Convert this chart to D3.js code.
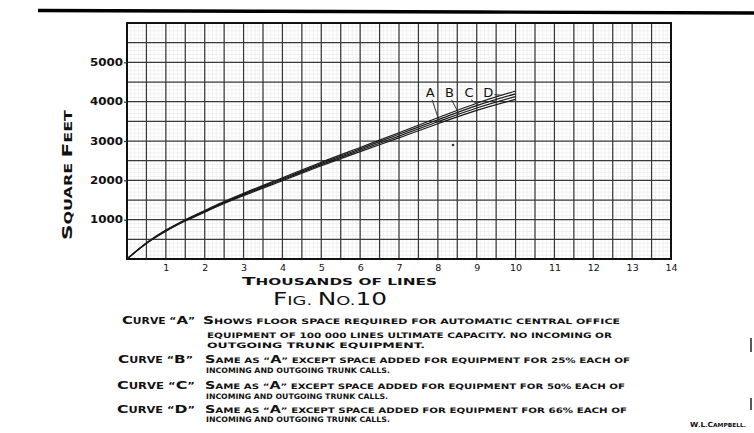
<!DOCTYPE html>
<html>
<head>
<meta charset="utf-8">
<script src="https://cdn.jsdelivr.net/npm/d3@7"></script>
<style>
  html, body { margin: 0; padding: 0; background: #fff; }
  svg { display: block; }
  text { font-family: "DejaVu Sans", sans-serif; fill: #111; }
  .lettering { font-weight: bold; }
</style>
</head>
<body>
<svg id="chart" width="754" height="433"></svg>
<script>
// Floor space (square feet) against thousands of lines, four curves A–D
const lines = [0, 0.5, 1, 1.5, 2, 2.5, 3, 4, 5, 6, 7, 8, 9, 10];
const curveA = [0, 395, 705, 965, 1190, 1410, 1610, 1990, 2370, 2730, 3080, 3440, 3780, 4060];
const curveB = [0, 400, 715, 980, 1205, 1425, 1630, 2015, 2400, 2765, 3125, 3490, 3840, 4130];
const curveC = [0, 405, 725, 990, 1220, 1445, 1650, 2040, 2430, 2800, 3170, 3540, 3900, 4200];
const curveD = [0, 410, 735, 1000, 1235, 1460, 1670, 2065, 2460, 2835, 3210, 3590, 3960, 4270];
const curveNames = ["A", "B", "C", "D"];
const xTicks = [1, 2, 3, 4, 5, 6, 7, 8, 9, 10, 11, 12, 13, 14];
const yTicks = [1000, 2000, 3000, 4000, 5000];

const captions = [
  { head: "Curve \u201CA\u201D", body: ["Shows floor space required for automatic central office",
                                        "equipment of 100 000 lines ultimate capacity. no incoming or",
                                        "outgoing trunk equipment."] },
  { head: "Curve \u201CB\u201D", body: ["Same as \u201CA\u201D except space added for equipment for 25% each of",
                                        "incoming and outgoing trunk calls."] },
  { head: "Curve \u201CC\u201D", body: ["Same as \u201CA\u201D except space added for equipment for 50% each of",
                                        "incoming and outgoing trunk calls."] },
  { head: "Curve \u201CD\u201D", body: ["Same as \u201CA\u201D except space added for equipment for 66% each of",
                                        "incoming and outgoing trunk calls."] }
];

const svg = d3.select("#chart");
const m = { left: 127, top: 23, right: 671, bottom: 259 };

const x = d3.scaleLinear().domain([0, 14]).range([m.left, m.right]);
const y = d3.scaleLinear().domain([0, 6000]).range([m.bottom, m.top]);

// hand lettering: capitals tall, the rest as short capitals
function letter(textSel, str, big, small, bigDigits) {
  const tall = bigDigits ? /[A-Z0-9]/ : /[A-Z]/;
  const runs = [];
  for (const ch of str) {
    const isBig = tall.test(ch);
    const last = runs[runs.length - 1];
    if (last && last.big === isBig) last.s += ch;
    else runs.push({ big: isBig, s: ch });
  }
  runs.forEach(r => {
    textSel.append("tspan")
      .attr("font-size", r.big ? big : small)
      .text(r.s.toUpperCase());
  });
  return textSel;
}

// edge of the page across the top
svg.append("path")
  .attr("d", "M38,10.5 C200,10 320,12.5 480,12 C600,12 700,13.5 754,13")
  .attr("fill", "none").attr("stroke", "#000").attr("stroke-width", 3.4);

const g = svg.append("g");

// fine ruling of the graph paper
g.append("g").selectAll("line").data(d3.range(0, 14.001, 0.1))
  .join("line")
  .attr("x1", d => x(d)).attr("x2", d => x(d))
  .attr("y1", m.top).attr("y2", m.bottom)
  .attr("stroke", "#e8e8e8").attr("stroke-width", 0.6);
g.append("g").selectAll("line").data(d3.range(0, 6000.1, 100))
  .join("line")
  .attr("y1", d => y(d)).attr("y2", d => y(d))
  .attr("x1", m.left).attr("x2", m.right)
  .attr("stroke", "#e8e8e8").attr("stroke-width", 0.6);

// heavy ruling every half thousand lines / 500 sq ft
g.append("g").selectAll("line").data(d3.range(0, 14.001, 0.5))
  .join("line")
  .attr("x1", d => x(d)).attr("x2", d => x(d))
  .attr("y1", m.top).attr("y2", m.bottom)
  .attr("stroke", "#3a3a3a").attr("stroke-width", 1.25);
g.append("g").selectAll("line").data(d3.range(0, 6000.1, 500))
  .join("line")
  .attr("y1", d => y(d)).attr("y2", d => y(d))
  .attr("x1", m.left).attr("x2", m.right)
  .attr("stroke", "#3a3a3a").attr("stroke-width", 1.25);

// frame
g.append("rect")
  .attr("x", m.left).attr("y", m.top)
  .attr("width", m.right - m.left).attr("height", m.bottom - m.top)
  .attr("fill", "none").attr("stroke", "#111").attr("stroke-width", 2);

// axes built from the scales, then restyled
const xAxis = d3.axisBottom(x).tickValues(xTicks).tickSize(0).tickPadding(5)
  .tickFormat(d3.format("d"));
const xg = svg.append("g").attr("transform", `translate(0,${m.bottom})`).call(xAxis);
xg.select(".domain").remove();
xg.selectAll("text").attr("font-size", 9.5).attr("fill", "#333")
  .attr("font-family", "DejaVu Sans, sans-serif");

const yAxis = d3.axisLeft(y).tickValues(yTicks).tickSize(3).tickPadding(1)
  .tickFormat(d3.format("d"));
const yg = svg.append("g").attr("transform", `translate(${m.left},0)`).call(yAxis);
yg.select(".domain").remove();
yg.selectAll("line").attr("stroke", "#333").attr("stroke-width", 1.2);
yg.selectAll("text").attr("font-size", 10).attr("font-weight", "bold").attr("fill", "#444")
  .attr("font-family", "DejaVu Sans, sans-serif")
  .attr("textLength", 33).attr("lengthAdjust", "spacingAndGlyphs");

// curves
const series = [curveA, curveB, curveC, curveD];
const line = d3.line()
  .x((d, i) => x(lines[i]))
  .y(d => y(d))
  .curve(d3.curveMonotoneX);
svg.append("g").selectAll("path").data(series).join("path")
  .attr("d", line)
  .attr("fill", "none").attr("stroke", "#1a1a1a").attr("stroke-width", 1.2);

// curve letters with leader strokes
function valueAt(vals, xv) {
  const i = d3.bisectRight(lines, xv) - 1;
  const t = (xv - lines[i]) / (lines[i + 1] - lines[i]);
  return vals[i] + t * (vals[i + 1] - vals[i]);
}
const labelX = [7.8, 8.3, 8.8, 9.3];
const targetX = [8.05, 8.55, 9.05, 9.65];
const lab = svg.append("g");
curveNames.forEach((n, i) => {
  lab.append("text")
    .attr("x", x(labelX[i])).attr("y", y(4120))
    .attr("text-anchor", "middle").attr("font-size", 13)
    .attr("fill", "#333").text(n);
  const tx = targetX[i];
  const ty = valueAt(series[i], tx);
  const sx = i === 3 ? x(labelX[i]) + 6 : x(labelX[i]) + 2;
  const sy = i === 3 ? y(4180) : y(4050);
  lab.append("line")
    .attr("x1", sx).attr("y1", sy)
    .attr("x2", x(tx)).attr("y2", y(ty))
    .attr("stroke", "#333").attr("stroke-width", 1);
});

// stray speck on the sheet
svg.append("circle").attr("cx", 453).attr("cy", 145).attr("r", 1.3).attr("fill", "#333");

// axis titles
letter(svg.append("text").attr("class", "lettering")
  .attr("transform", `translate(72,175) rotate(-90)`)
  .attr("text-anchor", "middle")
  .attr("textLength", 130).attr("lengthAdjust", "spacingAndGlyphs"),
  "Square Feet", 13.5, 10);

letter(svg.append("text").attr("class", "lettering")
  .attr("x", 242).attr("y", 285)
  .attr("textLength", 195).attr("lengthAdjust", "spacingAndGlyphs"),
  "Thousands of lines", 11, 8.5);

letter(svg.append("text")
  .attr("x", 273).attr("y", 305)
  .attr("textLength", 114).attr("lengthAdjust", "spacingAndGlyphs"),
  "Fig. No.10", 18, 13, true);

// notes below the figure
const headBox = [[122, 195], [118, 193], [117, 195], [117, 195]];
const bodyStart = [[203, 207, 207], [205, 206], [205, 206], [205, 206]];
const bodyEnd = [[620, 612, 425], [630, 390], [625, 388], [627, 390]];
const baselines = [[324, 338, 348], [363, 373], [389, 399], [413, 422]];
const notes = svg.append("g");
captions.forEach((c, i) => {
  letter(notes.append("text").attr("class", "lettering")
    .attr("x", headBox[i][0]).attr("y", baselines[i][0])
    .attr("textLength", headBox[i][1] - headBox[i][0]).attr("lengthAdjust", "spacingAndGlyphs"),
    c.head, 11, 8);
  c.body.forEach((t, j) => {
    letter(notes.append("text").attr("class", "lettering")
      .attr("x", bodyStart[i][j]).attr("y", baselines[i][j])
      .attr("textLength", bodyEnd[i][j] - bodyStart[i][j]).attr("lengthAdjust", "spacingAndGlyphs"),
      t, 10.5, 7.5);
  });
});

letter(notes.append("text").attr("class", "lettering")
  .attr("x", 690).attr("y", 427)
  .attr("textLength", 56).attr("lengthAdjust", "spacingAndGlyphs"),
  "W.L.Campbell.", 7, 5.5);

// marks at the right-hand edge
svg.append("line").attr("x1", 751).attr("x2", 751).attr("y1", 338).attr("y2", 352)
  .attr("stroke", "#222").attr("stroke-width", 1.5);
svg.append("line").attr("x1", 751).attr("x2", 751).attr("y1", 398).attr("y2", 410)
  .attr("stroke", "#222").attr("stroke-width", 1.5);
</script>
</body>
</html>
